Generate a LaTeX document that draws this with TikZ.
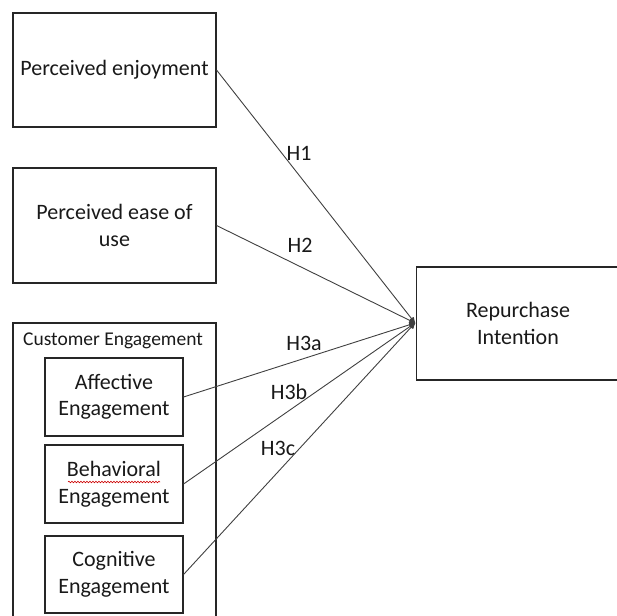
\documentclass[tikz,border=0pt]{standalone}
\usepackage{fontspec}
\setmainfont{Carlito}
\usetikzlibrary{arrows.meta,decorations.pathmorphing}
\begin{document}
\begin{tikzpicture}[x=1pt,y=-1pt,
  box/.style={draw=black!85, line width=1.1pt, align=center, inner sep=0pt,
    font=\fontsize{22}{26.5}\selectfont, text=black!90},
  link/.style={draw=black!75, line width=0.9pt, -{Latex[length=7pt,width=6pt,round]}},
  hlab/.style={font=\fontsize{22}{26.5}\selectfont, text=black!90, inner sep=0pt}]
\useasboundingbox (0,0) rectangle (617,615);
\clip (0,0) rectangle (617,615);
\node[box, minimum width=203pt, minimum height=114pt] (pe) at (114.5,70) {Perceived enjoyment};
\node[box, minimum width=203pt, minimum height=115pt] (peou) at (114.5,225.5) {Perceived ease of\\use};
\node[box, minimum width=203pt, minimum height=113pt] (ri) at (518,323.5) {Repurchase\\Intention};
\node[box, minimum width=203pt, minimum height=320pt] (ce) at (114.5,483) {};
\node[hlab, font=\fontsize{19.5}{24}\selectfont] (cel) at (113,341) {Customer Engagement};
\node[box, minimum width=138pt, minimum height=78pt] (ae) at (114,397) {Affective\\Engagement};
\node[box, minimum width=138pt, minimum height=78pt] (be) at (114,484) {Behavioral\\Engagement};
\node[box, minimum width=138pt, minimum height=77pt] (cg) at (114,574.5) {Cognitive\\Engagement};
\coordinate (hub) at (415,323);
\draw[link] (pe.east) -- (hub);
\draw[link] (peou.east) -- (hub);
\draw[link] (ae.east) -- (hub);
\draw[link] (be.east) -- (hub);
\draw[link] (cg.east) -- (hub);
\node[hlab] (h1) at (299,153) {H1};
\node[hlab] (h2) at (300,245) {H2};
\node[hlab] (h3a) at (304,343) {H3a};
\node[hlab] (h3b) at (289,392) {H3b};
\node[hlab] (h3c) at (278,448) {H3c};
\draw[red!80!black, line width=0.6pt, decorate, decoration={snake, amplitude=0.8pt, segment length=3pt}] (68,482) -- (160,482);
\end{tikzpicture}
\end{document}
